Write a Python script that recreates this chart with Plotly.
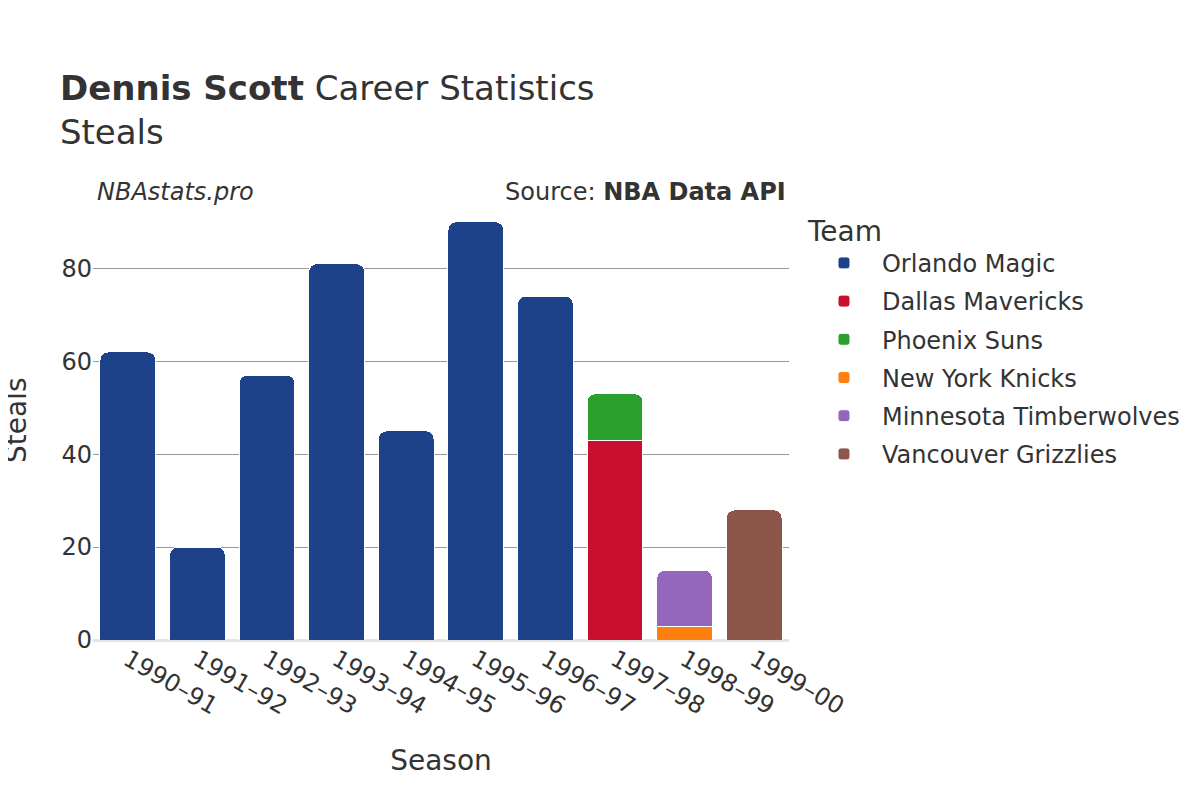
import plotly.graph_objects as go

seasons = ["1990–91", "1991–92", "1992–93", "1993–94", "1994–95", "1995–96", "1996–97", "1997–98", "1998–99", "1999–00"]

teams = ["Orlando Magic", "Dallas Mavericks", "Phoenix Suns", "New York Knicks", "Minnesota Timberwolves", "Vancouver Grizzlies"]
colors = ["#1d4289", "#c8102e", "#2ca02c", "#ff7f0e", "#9467bd", "#8c564b"]

orlando_seasons = ["1990–91", "1991–92", "1992–93", "1993–94", "1994–95", "1995–96", "1996–97"]
orlando_steals = [62, 20, 57, 81, 45, 90, 74]
dallas_seasons = ["1997–98"]
dallas_steals = [43]
phoenix_seasons = ["1997–98"]
phoenix_steals = [10]
knicks_seasons = ["1998–99"]
knicks_steals = [3]
minnesota_seasons = ["1998–99"]
minnesota_steals = [12]
vancouver_seasons = ["1999–00"]
vancouver_steals = [28]

series = [
    (orlando_seasons, orlando_steals),
    (dallas_seasons, dallas_steals),
    (phoenix_seasons, phoenix_steals),
    (knicks_seasons, knicks_steals),
    (minnesota_seasons, minnesota_steals),
    (vancouver_seasons, vancouver_steals),
]

fig = go.Figure()
for name, color, (xs, ys) in zip(teams, colors, series):
    fig.add_trace(go.Bar(
        x=xs, y=ys, name=name, legendgroup=name,
        marker=dict(color=color, line=dict(color="white", width=1)),
    ))

font_family = "DejaVu Sans"
fig.update_layout(
    barmode="stack",
    barcornerradius=8,
    bargap=0.2,
    width=1200, height=800,
    paper_bgcolor="white", plot_bgcolor="white",
    font=dict(family=font_family, color="#333333", size=20),
    margin=dict(l=85, r=419, t=192, b=168, autoexpand=False),
    title=dict(
        text="<b>Dennis Scott</b> Career Statistics<br>Steals",
        x=0.0433, xanchor="left", y=0.885, yanchor="top",
        font=dict(size=34, family=font_family, color="#333333"),
    ),
    xaxis=dict(
        title=dict(text="Season", font=dict(size=28), standoff=30),
        categoryorder="array", categoryarray=seasons,
        tickangle=30, tickfont=dict(size=24),
        showline=False, showgrid=False, automargin=False,
    ),
    yaxis=dict(
        tickfont=dict(size=24),
        gridcolor="#999999", gridwidth=1,
        zeroline=True, zerolinecolor="#e5e5e5", zerolinewidth=3,
        range=[0, 94.7],
        dtick=20, automargin=False,
    ),
    legend=dict(
        title=dict(text="Team", font=dict(size=28)),
        font=dict(size=24),
        x=1.0244, xanchor="left", y=0.99, yanchor="top",
        traceorder="grouped",
        itemwidth=66,
        tracegroupgap=4,
    ),
    annotations=[
        dict(text="Steals", xref="paper", yref="paper", x=-0.1106, y=0.5,
             xanchor="center", yanchor="middle", textangle=-90, showarrow=False,
             font=dict(size=28)),
        dict(text="<i>NBAstats.pro</i>", xref="paper", yref="paper", x=0.003, y=1.018,
             xanchor="left", yanchor="middle", showarrow=False, font=dict(size=24)),
        dict(text="Source: <b>NBA Data API</b>", xref="paper", yref="paper", x=0.998, y=1.018,
             xanchor="right", yanchor="middle", showarrow=False, font=dict(size=24)),
    ],
)

fig.write_html("out.html")
